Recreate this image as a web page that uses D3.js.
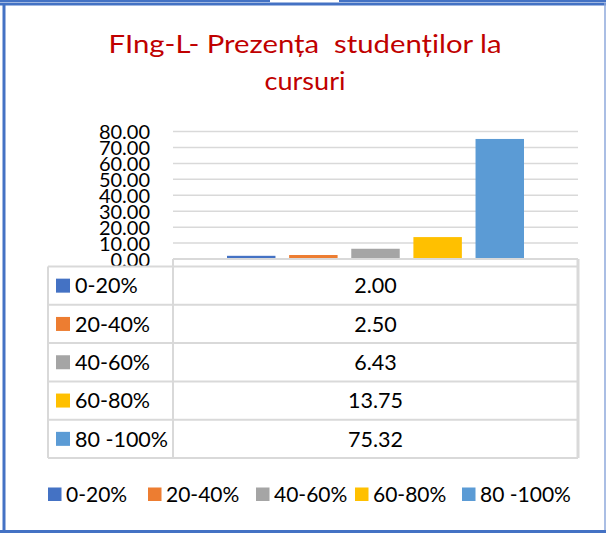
<!DOCTYPE html>
<html>
<head>
<meta charset="utf-8">
<script src="https://cdn.jsdelivr.net/npm/d3@7"></script>
<style>
  html, body { margin: 0; padding: 0; background: #fff; }
  svg { display: block; }
  text { font-family: Lato, "Noto Sans", sans-serif; }
</style>
</head>
<body>
<svg id="chart" width="606" height="533"></svg>
<script>
// ---- data ----
const titleLines = ["FIng-L- Prezența  studenților la", "cursuri"];
const series = ["0-20%", "20-40%", "40-60%", "60-80%", "80 -100%"];
const values = [2.00, 2.50, 6.43, 13.75, 75.32];
const colors = ["#4472C4", "#ED7D31", "#A5A5A5", "#FFC000", "#5B9BD5"];
const yTicks = [0, 10, 20, 30, 40, 50, 60, 70, 80];

const svg = d3.select("#chart");
const W = 606, H = 533;

// ---- frame ----
const frameBlue = "#4472C4";
svg.append("line").attr("x1", 0).attr("x2", 270).attr("y1", 1).attr("y2", 1)
  .attr("stroke", frameBlue).attr("stroke-width", 2);
svg.append("line").attr("x1", 339).attr("x2", W).attr("y1", 1).attr("y2", 1)
  .attr("stroke", frameBlue).attr("stroke-width", 2);
svg.append("line").attr("x1", 0).attr("x2", W).attr("y1", 4).attr("y2", 4)
  .attr("stroke", frameBlue).attr("stroke-width", 3);
svg.append("line").attr("x1", 4).attr("x2", 4).attr("y1", 3).attr("y2", H)
  .attr("stroke", frameBlue).attr("stroke-width", 3);
svg.append("line").attr("x1", 0).attr("x2", W).attr("y1", 531.5).attr("y2", 531.5)
  .attr("stroke", frameBlue).attr("stroke-width", 3);
svg.append("line").attr("x1", 605).attr("x2", 605).attr("y1", 3).attr("y2", 530)
  .attr("stroke", "#8EA9DB").attr("stroke-width", 1.5);

// ---- title ----
const titleWidths = [393, 81];
const title = svg.append("g");
title.selectAll("text").data(titleLines).join("text")
  .attr("x", 305)
  .attr("y", (d, i) => 52.7 + i * 37.3)
  .attr("text-anchor", "middle")
  .attr("fill", "#C00000")
  .attr("font-size", 25)
  .attr("textLength", (d, i) => titleWidths[i])
  .attr("lengthAdjust", "spacingAndGlyphs")
  .style("white-space", "pre")
  .text(d => d);

// ---- scales ----
const plotLeft = 173, plotRight = 578;
const y = d3.scaleLinear().domain([0, 80]).range([259, 131.5]);
const x = d3.scaleBand().domain(series).range([227, 524]).paddingInner(0.22).paddingOuter(0);

// ---- gridlines ----
const gridColor = "#D9D9D9";
svg.append("g").selectAll("line").data(yTicks.filter(t => t > 0)).join("line")
  .attr("x1", plotLeft).attr("x2", plotRight)
  .attr("y1", d => y(d)).attr("y2", d => y(d))
  .attr("stroke", gridColor).attr("stroke-width", 1.5);

// ---- y axis labels ----
const yAxis = d3.axisLeft(y).tickValues(yTicks).tickFormat(d3.format(".2f")).tickSize(0).tickPadding(0);
const yg = svg.append("g").attr("transform", "translate(150,0)").call(yAxis);
yg.select(".domain").remove();
yg.selectAll("text")
  .attr("font-family", "Lato, 'Noto Sans', sans-serif")
  .attr("font-size", 20)
  .attr("fill", "#000")
  .attr("dy", "0.36em");

// ---- bars ----
svg.append("g").selectAll("rect").data(values).join("rect")
  .attr("x", (d, i) => x(series[i]))
  .attr("width", x.bandwidth())
  .attr("y", d => y(d))
  .attr("height", d => y(0) - y(d))
  .attr("fill", (d, i) => colors[i]);

// ---- data table ----
const tLeft = 48, tDiv = 173, tRight = 578, tTop = 266.5, tBottom = 458;
const rows = d3.scaleBand().domain(series).range([tTop, tBottom]);
const tg = svg.append("g");
const lw = 2;
tg.append("line").attr("x1", tDiv).attr("x2", tRight).attr("y1", y(0)).attr("y2", y(0))
  .attr("stroke", gridColor).attr("stroke-width", lw);
const hy = [tTop].concat(series.map(s => rows(s) + rows.bandwidth()));
tg.selectAll("line.h").data(hy).join("line").attr("class", "h")
  .attr("x1", tLeft).attr("x2", tRight).attr("y1", d => d).attr("y2", d => d)
  .attr("stroke", gridColor).attr("stroke-width", lw);
tg.append("line").attr("x1", tLeft).attr("x2", tLeft).attr("y1", tTop).attr("y2", tBottom)
  .attr("stroke", gridColor).attr("stroke-width", lw);
tg.append("line").attr("x1", tDiv).attr("x2", tDiv).attr("y1", y(0)).attr("y2", tBottom)
  .attr("stroke", gridColor).attr("stroke-width", lw);
tg.append("line").attr("x1", tRight).attr("x2", tRight).attr("y1", y(0)).attr("y2", tBottom)
  .attr("stroke", gridColor).attr("stroke-width", 3);

const rg = tg.selectAll("g.row").data(series).join("g").attr("class", "row")
  .attr("transform", s => `translate(0,${rows(s) + rows.bandwidth() / 2})`);
rg.append("rect").attr("x", 56).attr("y", -7).attr("width", 14).attr("height", 14)
  .attr("fill", (s, i) => colors[i]);
rg.append("text").attr("x", 75).attr("dy", "0.36em").attr("font-size", 21.5)
  .attr("fill", "#000").text(s => s);
rg.append("text").attr("x", (tDiv + tRight) / 2).attr("dy", "0.36em").attr("font-size", 21.5)
  .attr("text-anchor", "middle").attr("fill", "#000")
  .text((s, i) => d3.format(".2f")(values[i]));

// ---- legend ----
const legendX = [48, 148, 256, 355, 462];
const lg = svg.append("g").attr("transform", "translate(0,494)");
series.forEach((s, i) => {
  lg.append("rect").attr("x", legendX[i]).attr("y", -6.5).attr("width", 13.5).attr("height", 13.5).attr("fill", colors[i]);
  lg.append("text").attr("x", legendX[i] + 18).attr("dy", "0.36em").attr("font-size", 21)
    .attr("fill", "#000").text(s);
});
</script>
</body>
</html>
